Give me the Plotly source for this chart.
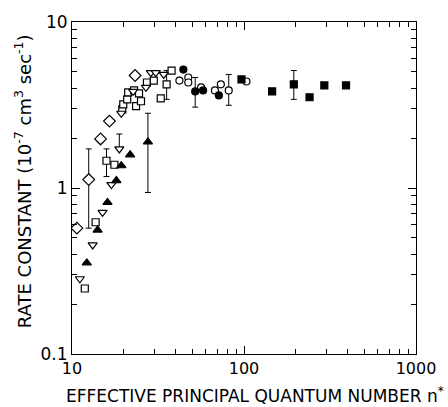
import plotly.graph_objects as go

# Open diamonds
dia_n = [10.68, 12.51, 14.66, 16.51, 23.27]
dia_k = [0.573, 1.124, 1.975, 2.53, 4.76]
dia_hi = [0, 1.72, 0, 0, 0]
dia_lo = [0, 0.573, 0, 0, 0]

# Open squares
sq_n = [11.87, 13.72, 15.87, 17.64, 19.60, 19.86, 20.94, 21.22, 22.96, 23.58, 25.19, 24.53,
        27.26, 29.89, 32.80, 35.49, 37.92]
sq_k = [0.248, 0.622, 1.459, 1.381, 2.98, 3.19, 3.42, 3.77, 3.87, 3.11, 3.33, 3.72,
        4.32, 4.44, 3.47, 4.21, 5.10]
sq_hi = [0, 0, 1.72, 0, 0, 0, 0, 0, 0, 0, 0, 0, 0, 0, 0, 5.10, 0]
sq_lo = [0, 0, 1.172, 0, 0, 0, 0, 0, 0, 0, 0, 0, 0, 0, 0, 3.42, 0]

# Open down-triangles
tri_n = [11.11, 13.19, 15.05, 16.95, 18.84, 19.34, 22.66, 26.91, 28.74, 30.69, 34.12]
tri_k = [0.284, 0.454, 0.714, 1.049, 1.72, 2.82, 3.82, 4.04, 4.96, 4.96, 4.83]
tri_hi = [0, 0, 0, 0, 2.115, 0, 0, 0, 0, 0, 0]

# Filled up-triangles
ftri_n = [12.19, 14.09, 16.08, 18.11, 19.34, 21.78, 27.63]
ftri_k = [0.354, 0.558, 0.819, 1.109, 1.362, 1.585, 1.895]
ftri_hi = [0, 0, 0, 0, 0, 0, 2.82]
ftri_lo = [0, 0, 0, 0, 0, 0, 0.940]

# Filled circles
fc_n = [44.41, 52.03, 57.82, 71.43]
fc_k = [5.17, 3.82, 3.87, 3.61]
fc_hi = [0, 4.63, 0, 0]
fc_lo = [0, 3.07, 0, 0]

# Open circles
oc_n = [42.13, 47.45, 47.45, 56.31, 67.76, 73.33, 81.5, 103.3]
oc_k = [4.44, 4.63, 4.32, 4.04, 3.87, 4.21, 3.87, 4.38]
oc_hi = [0, 0, 0, 0, 0, 0, 4.83, 0]
oc_lo = [0, 0, 0, 0, 0, 0, 3.15, 0]

# Filled squares
fs_n = [96.7, 145.7, 194.8, 240.5, 293.1, 391.8]
fs_k = [4.51, 3.82, 4.21, 3.52, 4.15, 4.15]
fs_hi = [0, 0, 5.10, 0, 0, 0]
fs_lo = [0, 0, 3.42, 0, 0, 0]

# Axis ticks
x_major = [10, 100, 1000]
x_major_text = ["10", "100", "1000"]
y_major = [0.1, 1, 10]
y_major_text = ["0.1", "1", "10"]
x_minor = [m * d for d in (10, 100) for m in range(2, 10)]
y_minor = [m * d for d in (0.1, 1) for m in range(2, 10)]


def err(vals, hi, lo):
    plus = [h - v if h else 0 for v, h in zip(vals, hi)]
    minus = [v - l if l else 0 for v, l in zip(vals, lo)]
    return dict(type="data", symmetric=False, array=plus, arrayminus=minus,
                color="black", thickness=1, width=3)


fig = go.Figure()


def add(n, k, symbol, filled, size, hi=None, lo=None):
    kw = {}
    if hi is not None:
        kw["error_y"] = err(k, hi, lo if lo is not None else [0] * len(k))
    fig.add_trace(go.Scatter(
        x=n, y=k, mode="markers",
        marker=dict(symbol=symbol, size=size,
                    color="black" if filled else "white",
                    line=dict(color="black", width=1.2)),
        showlegend=False, **kw))


add(dia_n, dia_k, "diamond", False, 9, dia_hi, dia_lo)
add(sq_n, sq_k, "square", False, 7, sq_hi, sq_lo)
add(tri_n, tri_k, "triangle-down", False, 8, tri_hi)
add(ftri_n, ftri_k, "triangle-up", True, 8, ftri_hi, ftri_lo)
add(oc_n, oc_k, "circle", False, 7, oc_hi, oc_lo)
add(fc_n, fc_k, "circle", True, 7, fc_hi, fc_lo)
add(fs_n, fs_k, "square", True, 7, fs_hi, fs_lo)

# empty trace so the minor-tick overlay axes are drawn
fig.add_trace(go.Scatter(x=[], y=[], xaxis="x2", yaxis="y2", mode="markers",
                         showlegend=False, hoverinfo="skip"))

font = "DejaVu Sans"
fig.update_layout(
    width=448, height=407,
    margin=dict(l=72, r=27, t=19, b=53),
    plot_bgcolor="white", paper_bgcolor="white",
    font=dict(family=font, color="black"),
    annotations=[
        dict(text="EFFECTIVE PRINCIPAL QUANTUM NUMBER n<sup>*</sup>",
             xref="paper", yref="paper", x=0.533, y=-0.124,
             xanchor="center", yanchor="middle", showarrow=False,
             font=dict(size=17, family=font)),
        dict(text="RATE CONSTANT (10<sup>-7</sup> cm<sup>3</sup> sec<sup>-1</sup>)",
             xref="paper", yref="paper", x=-0.14, y=0.52,
             xanchor="center", yanchor="middle", textangle=-90, showarrow=False,
             font=dict(size=18, family=font)),
    ],
    xaxis=dict(
        type="log", range=[1, 3], tickvals=x_major, ticktext=x_major_text,
        showgrid=False, zeroline=False,
        showline=True, linecolor="black", linewidth=1, mirror="ticks",
        ticks="inside", ticklen=8, tickcolor="black",
        tickfont=dict(size=16, family=font),
    ),
    yaxis=dict(
        type="log", range=[-1, 1], tickvals=y_major, ticktext=y_major_text,
        showgrid=False, zeroline=False,
        showline=True, linecolor="black", linewidth=1, mirror="ticks",
        ticks="inside", ticklen=8, tickcolor="black",
        tickfont=dict(size=17, family=font),
    ),
    xaxis2=dict(
        type="log", range=[1, 3], overlaying="x", anchor="y2", side="bottom",
        tickvals=x_minor, showticklabels=False, showgrid=False, zeroline=False,
        showline=False, mirror="ticks", ticks="inside", ticklen=5, tickcolor="black",
    ),
    yaxis2=dict(
        type="log", range=[-1, 1], overlaying="y", anchor="x2", side="left",
        tickvals=y_minor, showticklabels=False, showgrid=False, zeroline=False,
        showline=False, mirror="ticks", ticks="inside", ticklen=5, tickcolor="black",
    ),
)

fig.write_html("out.html",
               config={"displayModeBar": False},
               post_script="document.body.style.margin='0';"
                           "document.body.style.overflow='hidden';")
